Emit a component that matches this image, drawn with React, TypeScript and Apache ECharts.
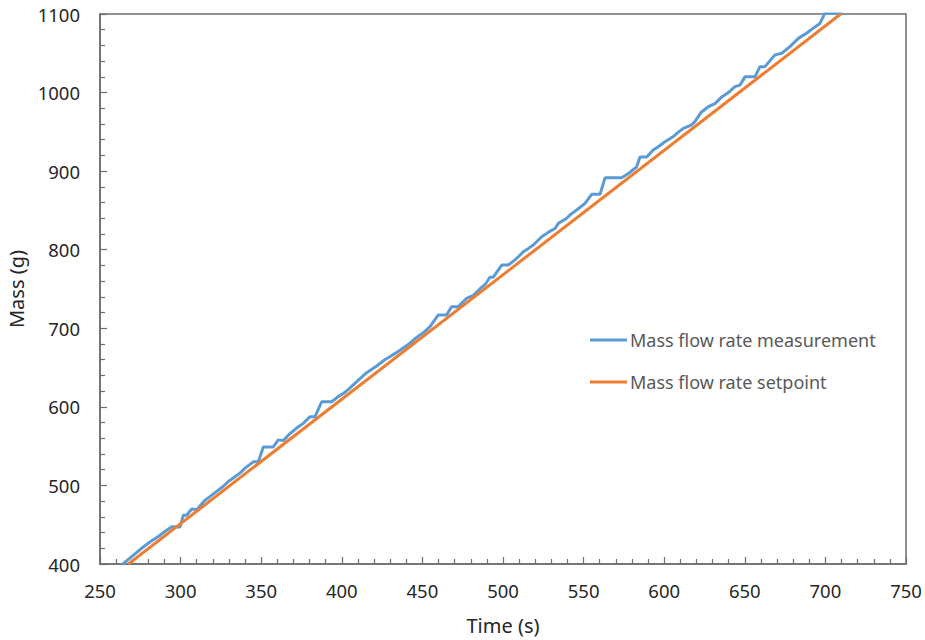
import React, { useEffect, useRef } from "react";
import * as echarts from "echarts";

const seriesNames = ["Mass flow rate measurement", "Mass flow rate setpoint"];

const measTime = [
  263.5, 270, 275.8, 281, 286.2, 290, 294.5, 299.6, 301.7, 303.7, 306.9, 310, 315.1, 319, 323.4, 326,
  329.6, 333.7, 337, 340, 345.1, 348.2, 351.3, 357.5, 360.6, 363.7, 367.9, 372, 376.1, 380.3, 383.4,
  387.5, 393.7, 397.8, 400.9, 404, 407.1, 411.3, 415.4, 418, 421.6, 426.7, 430, 433, 436.1, 442.3,
  445, 448.5, 451, 454.7, 459.9, 465, 468.1, 472.3, 477.4, 481.6, 486.7, 489, 491.9, 494, 499.2,
  503.3, 507.4, 510, 512.6, 516, 518.8, 524, 528, 532.3, 534.3, 539.5, 542, 545.7, 550.9, 555,
  560.2, 563.3, 573.6, 577.8, 582.9, 585, 589.1, 593.2, 597, 600.5, 605.6, 609, 611.9, 617, 619,
  623, 627.4, 631.5, 635.7, 639.8, 643.9, 647, 650.1, 656.3, 659.4, 662.5, 668.7, 672.9, 678,
  683.2, 688.3, 692.5, 696.6, 699.7, 708, 712,
];
const measMass = [
  399, 410, 420, 428, 435, 441, 447.5, 447, 462, 462, 470, 469, 481, 487, 494, 498,
  505, 511, 516, 522, 530, 530, 549, 549, 558, 557, 566, 573, 579, 587.5, 587.5,
  606.5, 606.5, 613, 617, 622, 628, 636, 643.5, 647, 652, 660, 664, 668, 672, 681,
  686, 691.5, 695, 702, 717, 717, 727.5, 727.5, 738, 742, 752, 756, 765, 765, 780.5,
  780.5, 787, 792, 797.5, 802, 806, 816.5, 822, 827, 833.5, 840, 845, 850.5, 859, 870.5,
  870.5, 891.5, 891.5, 897, 905.5, 918, 918, 927, 932, 937.5, 944, 950, 954.5, 959, 963,
  975, 982, 986, 994.5, 1000, 1007.5, 1009.5, 1020, 1020, 1033, 1033, 1048, 1050, 1058.5,
  1069, 1075.5, 1082, 1088, 1101, 1101, 1106,
];

const setTime = [267.6, 709.5];
const setMass = [400, 1100];

const xTicks = { min: 250, max: 750, interval: 50 };
const yTicks = { min: 400, max: 1100, interval: 100 };

export default function App() {
  const ref = useRef<HTMLDivElement>(null);
  useEffect(() => {
    if (!ref.current) return;
    const chart = echarts.init(ref.current, undefined, { renderer: "svg" });
    const font = "'Noto Sans', 'Open Sans', sans-serif";
    const axisColor = "#6e6e6e";
    const fmt = (v: number) => String(v);
    chart.setOption({
      animation: false,
      textStyle: { fontFamily: font },
      grid: {
        left: 100,
        right: 19,
        top: 14,
        bottom: 76,
        containLabel: false,
        outerBoundsMode: "none",
        show: true,
        borderColor: axisColor,
        borderWidth: 1.5,
      },
      legend: {
        orient: "vertical",
        left: 590,
        top: 330,
        padding: 0,
        itemGap: 22,
        itemWidth: 37,
        itemHeight: 3,
        icon: "rect",
        textStyle: { fontSize: 18, color: "#595959", lineHeight: 20, fontFamily: font, padding: [0, 0, 0, -2] },
        data: seriesNames,
      },
      xAxis: {
        type: "value",
        min: xTicks.min,
        max: xTicks.max,
        interval: xTicks.interval,
        name: "Time (s)",
        nameLocation: "middle",
        nameGap: 51,
        nameTextStyle: { fontSize: 20, color: "#262626", fontFamily: font },
        axisLine: { show: true, lineStyle: { color: axisColor, width: 1.5 } },
        axisTick: { show: true, inside: true, length: 7, lineStyle: { color: axisColor, width: 1.2 } },
        minorTick: { show: true, splitNumber: 5, length: 5, lineStyle: { color: axisColor, width: 1.2 } },
        axisLabel: { fontSize: 18.5, color: "#262626", margin: 17, fontFamily: font, formatter: fmt },
        splitLine: { show: false },
      },
      yAxis: {
        type: "value",
        min: yTicks.min,
        max: yTicks.max,
        interval: yTicks.interval,
        name: "Mass (g)",
        nameLocation: "middle",
        nameGap: 71,
        nameTextStyle: { fontSize: 20, color: "#262626", fontFamily: font },
        axisLine: { show: true, lineStyle: { color: axisColor, width: 1.5 } },
        axisTick: { show: true, inside: true, length: 7, lineStyle: { color: axisColor, width: 1.2 } },
        minorTick: { show: true, splitNumber: 5, length: 5, lineStyle: { color: axisColor, width: 1.2 } },
        axisLabel: { fontSize: 18.5, color: "#262626", margin: 20, fontFamily: font, formatter: fmt },
        splitLine: { show: false },
      },
      series: [
        {
          name: seriesNames[0],
          type: "line",
          data: measTime.map((t, i) => [t, measMass[i]]),
          showSymbol: false,
          symbol: "none",
          clip: true,
          lineStyle: { color: "#5B9BD5", width: 3 },
          itemStyle: { color: "#5B9BD5" },
        },
        {
          name: seriesNames[1],
          type: "line",
          data: setTime.map((t, i) => [t, setMass[i]]),
          showSymbol: false,
          symbol: "none",
          clip: true,
          lineStyle: { color: "#ED7D31", width: 3 },
          itemStyle: { color: "#ED7D31" },
        },
      ],
    });
    return () => chart.dispose();
  }, []);
  return (
    <div
      ref={ref}
      style={{ position: "fixed", left: 0, top: 0, width: 925, height: 640, background: "#fff" }}
    />
  );
}
